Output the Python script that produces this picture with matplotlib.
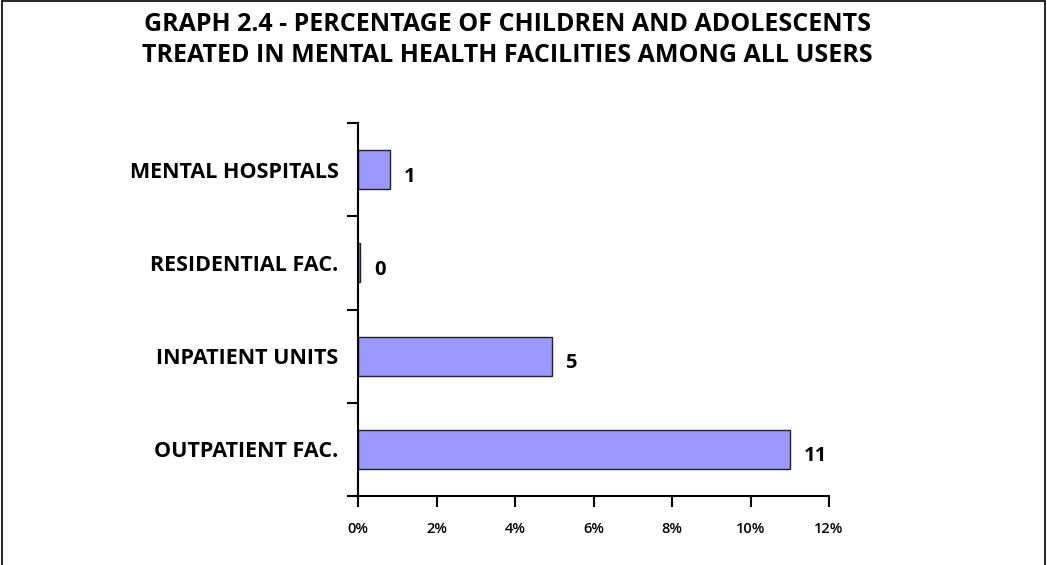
import numpy as np
import matplotlib
matplotlib.use('Agg')
import matplotlib.pyplot as plt
from matplotlib.patches import Rectangle

categories = ['OUTPATIENT FAC.', 'INPATIENT UNITS', 'RESIDENTIAL FAC.', 'MENTAL HOSPITALS']
values     = [11.0, 4.93, 0.05, 0.82]     # percent
labels     = ['11', '5', '0', '1']
xticks     = [0, 2, 4, 6, 8, 10, 12]

plt.rcParams['font.family'] = ['Open Sans', 'DejaVu Sans']

fig = plt.figure(figsize=(10.47, 5.65), dpi=100)
fig.patches.append(Rectangle((0.002, -0.01), 0.996, 1.008, transform=fig.transFigure,
                             fill=False, edgecolor='black', linewidth=1.2))

ax = fig.add_axes([358 / 1047, 1 - 496 / 565, (829 - 358) / 1047, (496 - 123) / 565])
y = np.arange(len(categories))
ax.barh(y, values, height=0.42, color='#9999ff', edgecolor='#222222', linewidth=1.0)

ax.set_xlim(0, 12)
ax.set_ylim(-0.5, len(categories) - 0.5)
ax.set_xticks(xticks)
ax.set_xticklabels([f'{t}%' for t in xticks], fontsize=10.5, fontweight='semibold')
ax.set_yticks(np.arange(-0.5, len(categories), 1.0))
ax.set_yticklabels([])
ax.set_yticks(y, minor=True)
ax.set_yticklabels(categories, minor=True, fontsize=15.5, fontweight='bold')
ax.tick_params(axis='y', which='minor', length=0, pad=14)
ax.tick_params(axis='y', which='major', length=8, width=1.5, direction='out')
ax.tick_params(axis='x', length=8, width=1.5, direction='out', pad=11)
for s in ['top', 'right']:
    ax.spines[s].set_visible(False)
for s in ['left', 'bottom']:
    ax.spines[s].set_linewidth(1.5)

for yi, v, lab in zip(y, values, labels):
    ax.annotate(lab, (v, yi), xytext=(10, -5), textcoords='offset points',
                va='center', ha='left', fontsize=14.5, fontweight='bold')

fig.text(0.485, 0.978, 'GRAPH 2.4 - PERCENTAGE OF CHILDREN AND ADOLESCENTS\n'
         'TREATED IN MENTAL HEALTH FACILITIES AMONG ALL USERS',
         ha='center', va='top', fontsize=18, fontweight='bold', linespacing=1.3)

fig.savefig('out.png', dpi=100)
